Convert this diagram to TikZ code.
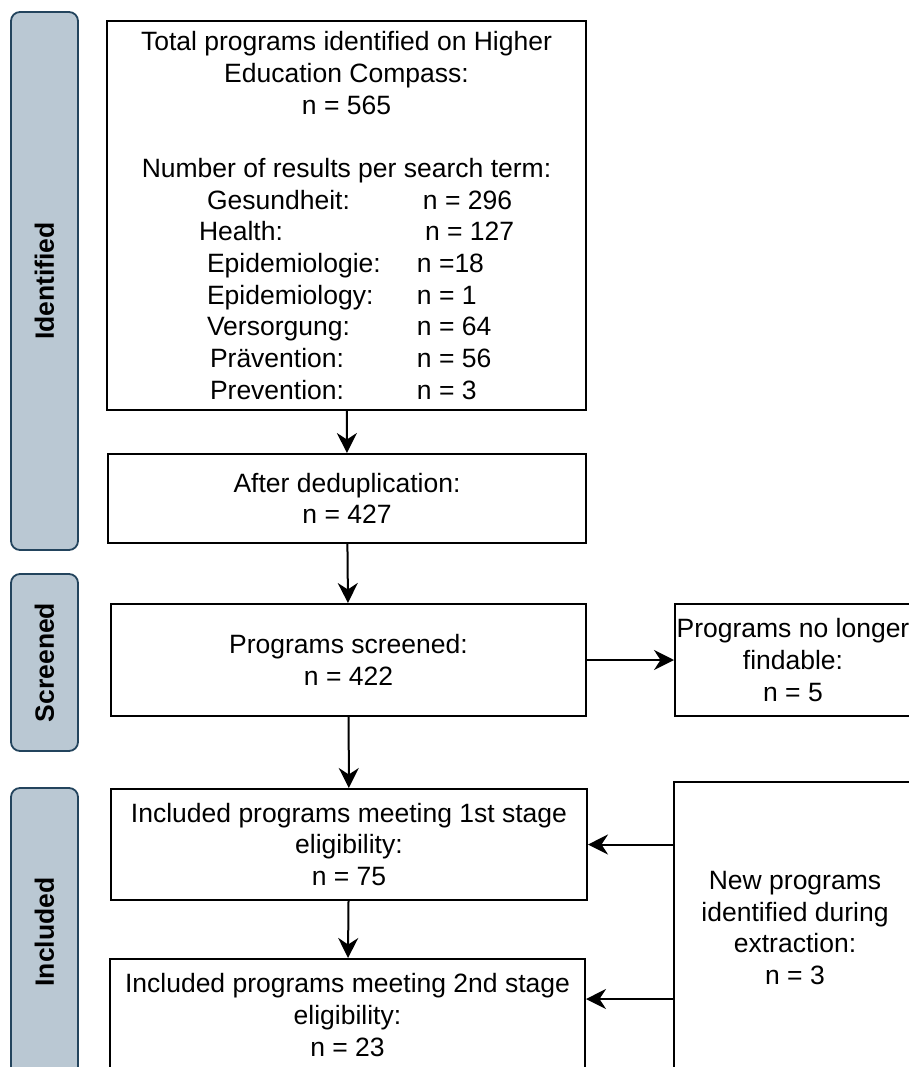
\documentclass[tikz,border=0pt]{standalone}
\usepackage{fontspec}
\setmainfont{Liberation Sans}
\usepackage{tikz}
\usetikzlibrary{arrows.meta}

\definecolor{phasefill}{HTML}{BAC8D3}
\definecolor{phaseline}{HTML}{23445D}
% one line of the search term list: shift, term, shift, count
\newcommand{\termrow}[4]{\makebox[210pt][l]{\hspace*{#1pt}#2}\makebox[69pt][l]{\hspace*{#3pt}#4}}

\begin{document}
\begin{tikzpicture}[x=1pt, y=-1pt,
  box/.style={draw, line width=2pt, align=center, inner sep=0pt,
    font=\fontsize{26.5}{31.7}\selectfont},
  phase/.style={draw=phaseline, fill=phasefill, line width=1.8pt, rounded corners=9pt,
    minimum width=67pt, inner sep=0pt},
  phaselabel/.style={font=\fontsize{26.5}{31.7}\selectfont\bfseries, rotate=90},
  flow/.style={-{Stealth[length=20pt, width=20pt, inset=6.5pt]}, line width=2pt}]
 \clip (0,0) rectangle (909,1067);

 % phases on the left
 \node (identified) [phase, minimum height=538pt] at (44.5,281) {};
 \node (screened) [phase, minimum height=177pt] at (44.5,662.5) {};
 \node (included) [phase, minimum height=288pt] at (44.5,932) {};
 \node [phaselabel] at (identified) {Identified};
 \node [phaselabel] at (screened) {Screened};
 \node [phaselabel] at (included) {Included};

 % flow boxes
 \node (total) [box, minimum width=479pt, minimum height=389pt] at (346.5,215.5)
  {Total programs identified on Higher\\ Education Compass:\\ n = 565\\[31.7pt]
   Number of results per search term:\\
   \termrow{0}{Gesundheit:}{6}{n = 296}\\
   \termrow{-8}{Health:}{8}{n = 127}\\
   \termrow{0}{Epidemiologie:}{0}{n =18}\\
   \termrow{0}{Epidemiology:}{0}{n = 1}\\
   \termrow{0}{Versorgung:}{0}{n = 64}\\
   \termrow{3}{Prävention:}{0}{n = 56}\\
   \termrow{3}{Prevention:}{0}{n = 3}};
 \node (dedup) [box, minimum width=478pt, minimum height=89pt] at (347,498.5)
  {After deduplication:\\ n = 427};
 \node (screen) [box, minimum width=475pt, minimum height=112pt] at (348.5,660)
  {Programs screened:\\ n = 422};
 \node (lost) [box, minimum width=236pt, minimum height=112pt] at (793,660)
  {Programs no longer\\ findable:\\ n = 5};
 \node (first) [box, minimum width=476pt, minimum height=111pt] at (349,844.5)
  {Included programs meeting 1st stage\\ eligibility:\\ n = 75};
 \node (second) [box, minimum width=475pt, minimum height=112pt] at (347.5,1015)
  {Included programs meeting 2nd stage\\ eligibility:\\ n = 23};
 \node (newprog) [box, minimum width=242pt, minimum height=292pt] at (795,928)
  {New programs\\ identified during\\ extraction:\\ n = 3};

 \path[flow]
  (total) edge (dedup)
  (dedup) edge (screen)
  (screen) edge (lost)
  (screen) edge (first)
  (first) edge (second)
  (first.east -| newprog.west) edge (first.east)
  ([yshift=16pt]second.east -| newprog.west) edge ([yshift=16pt]second.east)
  ;
\end{tikzpicture}
\end{document}
